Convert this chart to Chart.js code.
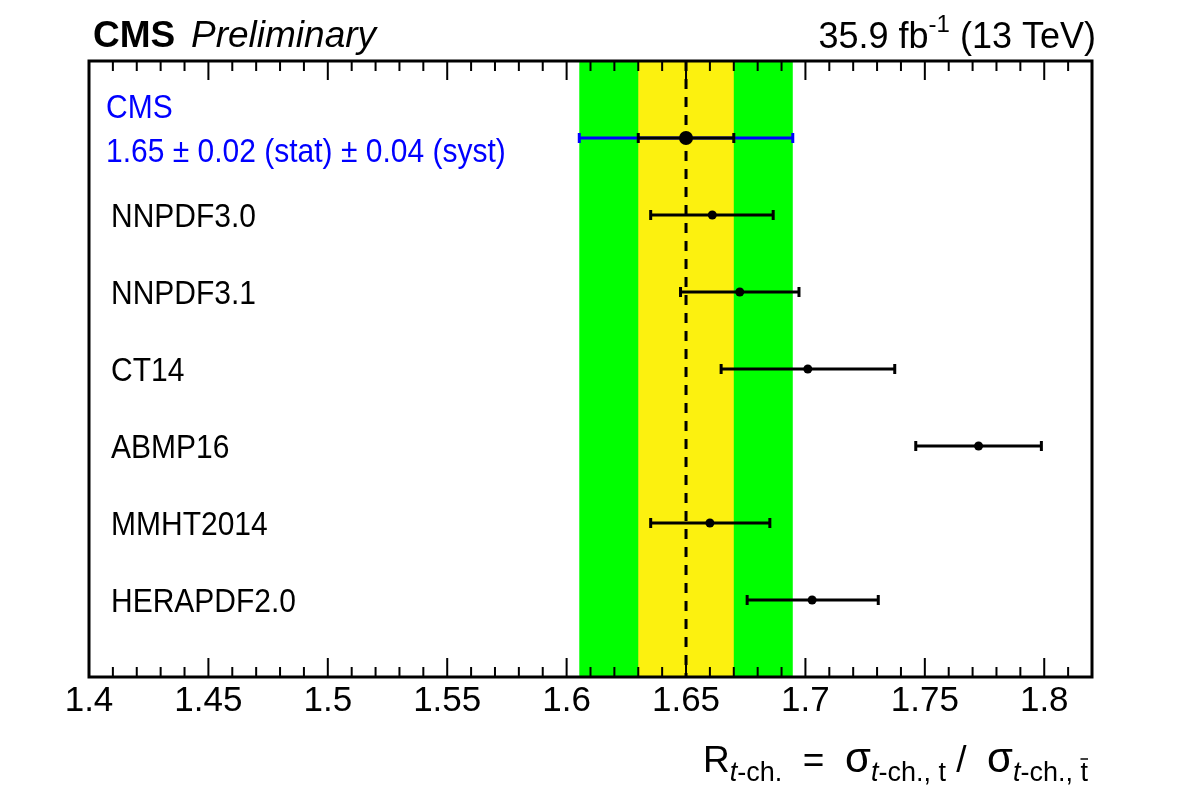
<!DOCTYPE html>
<html>
<head>
<meta charset="utf-8">
<script src="https://cdn.jsdelivr.net/npm/chart.js@4"></script>
<style>
  html, body { margin: 0; padding: 0; background: #fff; }
  #wrap { width: 1182px; height: 798px; }
</style>
</head>
<body>
<div id="wrap"><canvas id="c" width="1182" height="798"></canvas></div>
<script>
// measurement (CMS)
const cmsValue = 1.65
const cmsStat = 0.02
const cmsTotal = 0.0447   // sqrt(stat^2 + syst^2)
const cmsLabel = ['CMS', '1.65 \u00B1 0.02 (stat) \u00B1 0.04 (syst)']

// predictions for each PDF set
const pdfNames = ['NNPDF3.0', 'NNPDF3.1', 'CT14', 'ABMP16', 'MMHT2014', 'HERAPDF2.0']
const pdfValues = [1.661, 1.6725, 1.701, 1.7725, 1.660, 1.7028]
const pdfLow = [1.6352, 1.6477, 1.6647, 1.7462, 1.6352, 1.6756]
const pdfHigh = [1.6865, 1.6973, 1.7374, 1.7988, 1.6851, 1.7305]

const xMin = 1.4
const xMax = 1.82
const xTicks = [1.4, 1.45, 1.5, 1.55, 1.6, 1.65, 1.7, 1.75, 1.8]

const FONT = '"Liberation Sans", Arial, Helvetica, sans-serif'

function hbar(ctx, x1, x2, y, color, cap) {
  ctx.strokeStyle = color
  ctx.lineWidth = 3
  ctx.beginPath()
  ctx.moveTo(x1, y); ctx.lineTo(x2, y)
  ctx.moveTo(x1, y - cap); ctx.lineTo(x1, y + cap)
  ctx.moveTo(x2, y - cap); ctx.lineTo(x2, y + cap)
  ctx.stroke()
}

// text a bit taller than wide, like the ROOT output
function tallText(ctx, txt, x, y, sy) {
  ctx.save()
  ctx.translate(x, y)
  ctx.scale(1, sy)
  ctx.fillText(txt, 0, 0)
  ctx.restore()
}

const cmsPlugin = {
  id: 'cms',
  beforeDatasetsDraw(chart) {
    const ctx = chart.ctx
    const a = chart.chartArea
    const xs = chart.scales.x
    const ys = chart.scales.y
    ctx.save()
    // bands
    ctx.fillStyle = '#00ff00'
    let l = xs.getPixelForValue(cmsValue - cmsTotal), r = xs.getPixelForValue(cmsValue + cmsTotal)
    ctx.fillRect(l, a.top, r - l, a.bottom - a.top)
    ctx.fillStyle = '#fcf10f'
    l = xs.getPixelForValue(cmsValue - cmsStat); r = xs.getPixelForValue(cmsValue + cmsStat)
    ctx.fillRect(l, a.top, r - l, a.bottom - a.top)
    // dashed central line
    const xc = xs.getPixelForValue(cmsValue)
    ctx.strokeStyle = '#000'
    ctx.lineWidth = 3
    ctx.setLineDash([10, 8])
    ctx.beginPath()
    ctx.moveTo(xc, a.top); ctx.lineTo(xc, a.bottom)
    ctx.stroke()
    ctx.setLineDash([])
    // error bars
    const y0 = ys.getPixelForValue(1)
    hbar(ctx, xs.getPixelForValue(cmsValue - cmsTotal), xs.getPixelForValue(cmsValue + cmsTotal), y0, '#0000ff', 5)
    hbar(ctx, xs.getPixelForValue(cmsValue - cmsStat), xs.getPixelForValue(cmsValue + cmsStat), y0, '#000', 5)
    for (let i = 0; i < pdfNames.length; i++) {
      const y = ys.getPixelForValue(i + 2)
      hbar(ctx, xs.getPixelForValue(pdfLow[i]), xs.getPixelForValue(pdfHigh[i]), y, '#000', 5)
    }
    ctx.restore()
  },
  afterDraw(chart) {
    const ctx = chart.ctx
    const a = chart.chartArea
    const xs = chart.scales.x
    const ys = chart.scales.y
    ctx.save()
    // frame
    ctx.strokeStyle = '#000'
    ctx.lineWidth = 3
    ctx.strokeRect(a.left, a.top, a.right - a.left, a.bottom - a.top)
    // ticks, inside, top and bottom
    ctx.lineWidth = 2
    ctx.beginPath()
    for (let i = 140; i <= 182; i++) {
      const x = xs.getPixelForValue(i / 100)
      const len = i % 5 === 0 ? 19 : 10
      ctx.moveTo(x, a.bottom); ctx.lineTo(x, a.bottom - len)
      ctx.moveTo(x, a.top); ctx.lineTo(x, a.top + len)
    }
    ctx.stroke()

    // row labels
    ctx.textBaseline = 'alphabetic'
    ctx.textAlign = 'left'
    ctx.fillStyle = '#0000ff'
    ctx.font = '30px ' + FONT
    tallText(ctx, cmsLabel[0], 106, 118, 1.08)
    tallText(ctx, cmsLabel[1], 106, 162, 1.08)
    ctx.fillStyle = '#000'
    ctx.font = '30px ' + FONT
    for (let i = 0; i < pdfNames.length; i++) {
      tallText(ctx, pdfNames[i], 111, ys.getPixelForValue(i + 2) + 11.5, 1.08)
    }

    // header
    ctx.font = 'bold 37px ' + FONT
    tallText(ctx, 'CMS', 93, 47, 1.0)
    ctx.font = 'italic 37px ' + FONT
    tallText(ctx, 'Preliminary', 191, 47, 1.0)
    const t1 = '35.9 fb', t2 = '-1', t3 = ' (13 TeV)'
    ctx.font = '36px ' + FONT
    const w1 = ctx.measureText(t1).width, w3 = ctx.measureText(t3).width
    ctx.font = '24px ' + FONT
    const w2 = ctx.measureText(t2).width
    let x = 1096 - w1 - w2 - w3
    ctx.font = '36px ' + FONT
    ctx.fillText(t1, x, 48); x += w1
    ctx.font = '24px ' + FONT
    ctx.fillText(t2, x, 32); x += w2
    ctx.font = '36px ' + FONT
    ctx.fillText(t3, x, 48)

    // axis title: R_{t-ch.} = sigma_{t-ch., t} / sigma_{t-ch., tbar}
    const big = '37px ' + FONT
    const sig = '42px ' + FONT
    const sub = '27px ' + FONT
    const subIt = 'italic 27px ' + FONT
    const parts = [
      [big, 'R', 0], [subIt, 't', 9], [sub, '-ch.', 9],
      [big, '  =  ', 0], [sig, '\u03C3', 0], [subIt, 't', 9], [sub, '-ch., t', 9],
      [big, ' /  ', 0], [sig, '\u03C3', 0], [subIt, 't', 9], [sub, '-ch., t', 9, true]
    ]
    let total = 0
    for (const p of parts) { ctx.font = p[0]; total += ctx.measureText(p[1]).width }
    x = 1088 - total
    const base = 772
    for (const p of parts) {
      ctx.font = p[0]
      ctx.fillText(p[1], x, base + p[2])
      const w = ctx.measureText(p[1]).width
      if (p[3]) {
        // bar over the last t
        const tw = ctx.measureText('t').width
        ctx.lineWidth = 1.5
        ctx.beginPath()
        ctx.moveTo(x + w - tw, base + p[2] - 22)
        ctx.lineTo(x + w, base + p[2] - 22)
        ctx.stroke()
      }
      x += w
    }
    ctx.restore()
  }
}

const pdfPoints = pdfValues.map((v, i) => ({ x: v, y: i + 2 }))

new Chart(document.getElementById('c'), {
  type: 'scatter',
  data: {
    datasets: [
      {
        label: 'CMS',
        data: [{ x: cmsValue, y: 1 }],
        pointRadius: 7,
        pointBackgroundColor: '#000',
        pointBorderColor: '#000',
        pointBorderWidth: 0
      },
      {
        label: 'PDF',
        data: pdfPoints,
        pointRadius: 4.5,
        pointBackgroundColor: '#000',
        pointBorderColor: '#000',
        pointBorderWidth: 0
      }
    ]
  },
  options: {
    responsive: false,
    animation: false,
    events: [],
    layout: { padding: { left: 89, right: 90, top: 61, bottom: 0 } },
    plugins: { legend: { display: false }, tooltip: { enabled: false } },
    scales: {
      x: {
        type: 'linear',
        min: xMin,
        max: xMax,
        afterFit(scale) { scale.height = 121 },
        afterBuildTicks(scale) { scale.ticks = xTicks.map(v => ({ value: v })) },
        grid: { display: false, drawTicks: false },
        border: { display: false },
        ticks: {
          padding: 3,
          color: '#000',
          font: { family: FONT, size: 35 },
          callback: v => String(+v.toFixed(2))
        }
      },
      y: {
        type: 'linear',
        min: 0,
        max: 8,
        reverse: true,
        display: false
      }
    }
  },
  plugins: [cmsPlugin]
})
</script>
</body>
</html>
